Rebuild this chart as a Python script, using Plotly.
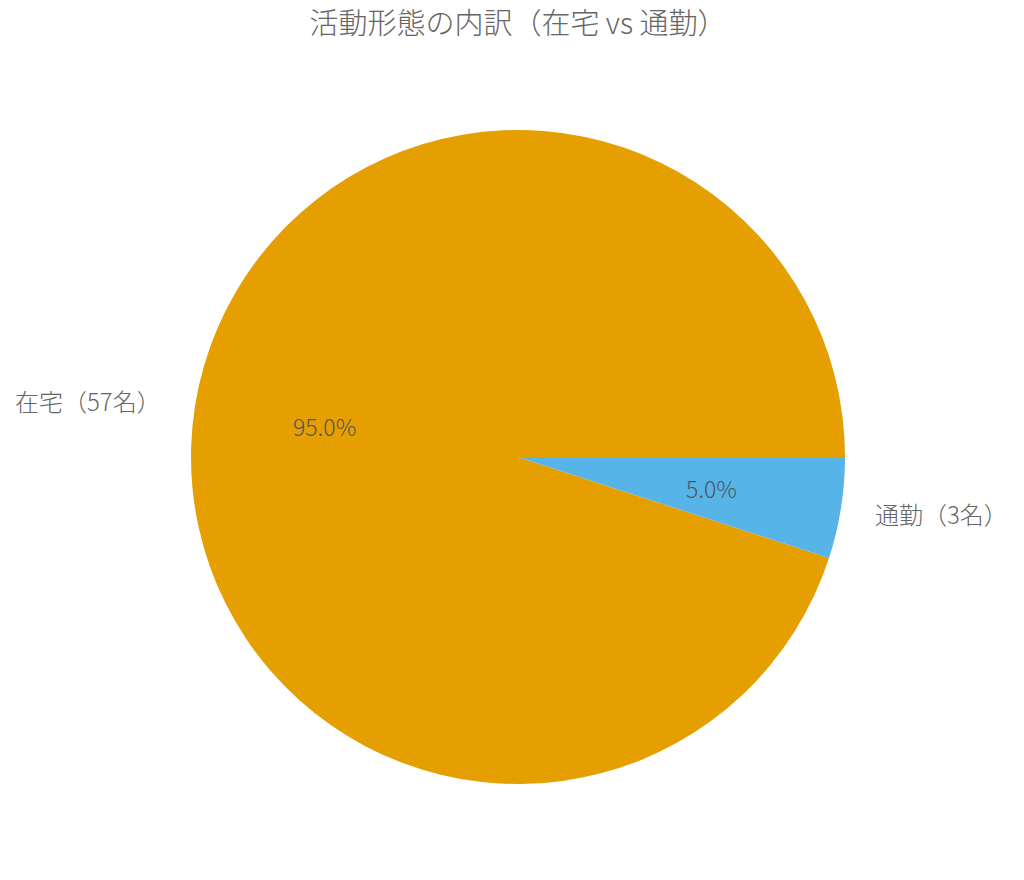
import numpy as np
import plotly.graph_objects as go

# ---------- data ----------
categories = ['在宅', '通勤']
counts = [57, 3]
colors = ['#E69F00', '#56B4E9']
title_text = '活動形態の内訳（在宅 vs 通勤）'

FONT = 'Noto Sans CJK JP'
W, H = 1024, 880
# page body adds 8px offset, so pull margins in by 8
M = dict(l=182, r=186, t=122, b=104)

labels = [f'{c}（{n}名）' for c, n in zip(categories, counts)]

vals = np.array(counts, dtype=float)
frac = vals / vals.sum()
start_deg = 0.0  # first slice starts at 3 o'clock, counterclockwise

fig = go.Figure(go.Pie(
    labels=labels, values=counts,
    marker=dict(colors=colors, line=dict(width=0)),
    sort=False, direction='counterclockwise',
    rotation=90 + frac[-1] * 360,
    textinfo='none', showlegend=False,
))

# label positions from the slice angles (pct at 0.6r, label at 1.1r)
plot_w = W - M['l'] - M['r']
plot_h = H - M['t'] - M['b']
R = min(plot_w, plot_h) / 2
ends = np.radians(start_deg) + np.cumsum(frac) * 2 * np.pi
mids = ends - frac * np.pi

for lab, f, a in zip(labels, frac, mids):
    cx, cy = np.cos(a), np.sin(a)
    fig.add_annotation(
        x=0.5 + 0.6 * R * cx / plot_w, y=0.5 + 0.6 * R * cy / plot_h,
        xref='paper', yref='paper', text=f'{f * 100:.1f}%', showarrow=False,
        xanchor='center', yanchor='middle',
        font=dict(family=FONT, size=23, color='#555555', weight=300),
    )
    fig.add_annotation(
        x=0.5 + 1.1 * R * cx / plot_w, y=0.5 + 1.1 * R * cy / plot_h,
        xref='paper', yref='paper', text=lab, showarrow=False,
        xanchor='right' if cx < 0 else 'left', yanchor='middle',
        font=dict(family=FONT, size=24, color='#666666', weight=300),
    )

fig.update_layout(
    width=W, height=H,
    margin=M,
    paper_bgcolor='white', plot_bgcolor='white',
    title=dict(text=title_text, x=(M['l'] + plot_w / 2) / W, xanchor='center',
               yref='container', y=1 - 6 / H, yanchor='top',
               font=dict(family=FONT, size=29, color='#666666', weight=300)),
)

fig.write_html('out.html')
